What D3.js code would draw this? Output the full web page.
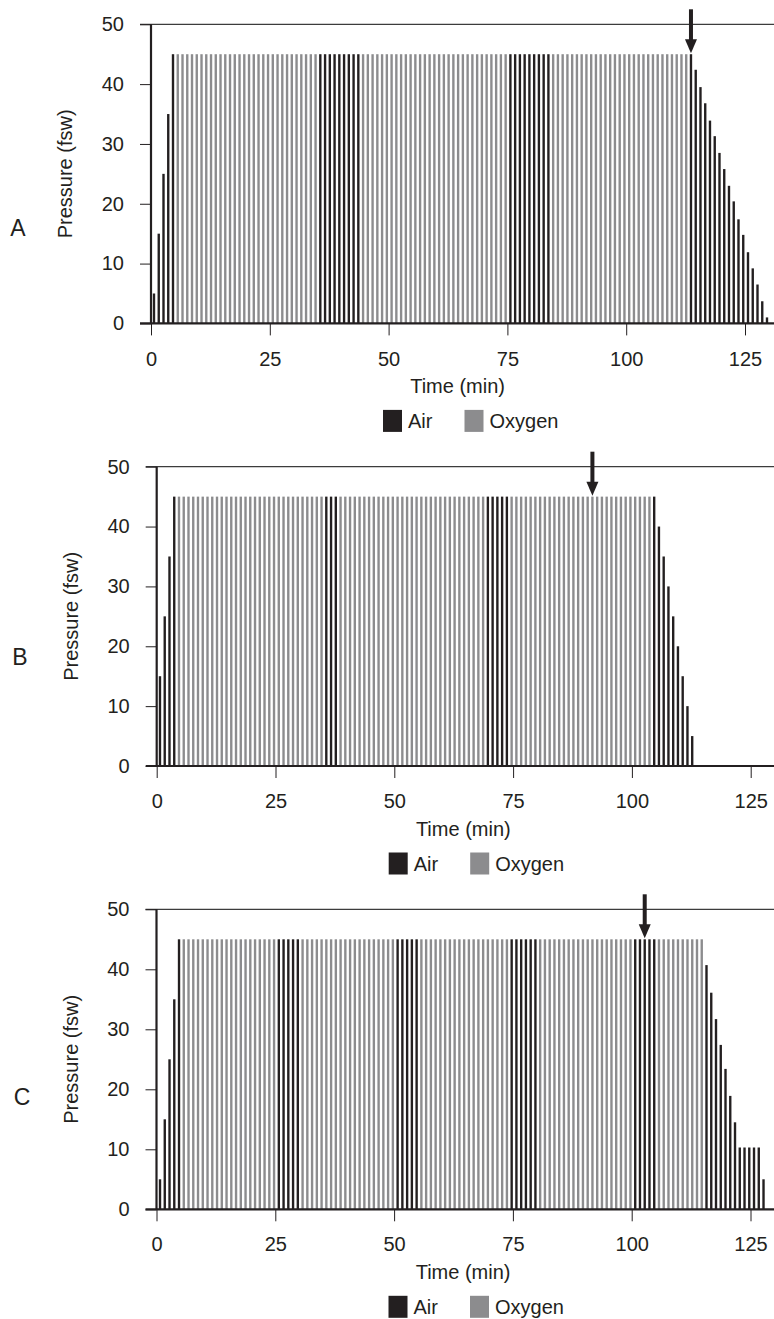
<!DOCTYPE html>
<html><head><meta charset="utf-8">
<script src="https://cdn.jsdelivr.net/npm/d3@7"></script>
<style>html,body{margin:0;padding:0;background:#fff;} svg{display:block;}</style>
</head><body>
<script>
// ---------- DATA ----------
const xTicks = [0, 25, 50, 75, 100, 125];
const yTicks = [0, 10, 20, 30, 40, 50];
const legendLabels = ["Air", "Oxygen"];
const panelLabels = ["A", "B", "C"];
const xTitle = "Time (min)";
const yTitle = "Pressure (fsw)";
const arrowMinutes = [113, 91, 102];

// pressure per minute (fsw), one value per minute starting at t = 0
const pressureA = [
  5,15,25,35,45,45,45,45,45,45,
  45,45,45,45,45,45,45,45,45,45,
  45,45,45,45,45,45,45,45,45,45,
  45,45,45,45,45,45,45,45,45,45,
  45,45,45,45,45,45,45,45,45,45,
  45,45,45,45,45,45,45,45,45,45,
  45,45,45,45,45,45,45,45,45,45,
  45,45,45,45,45,45,45,45,45,45,
  45,45,45,45,45,45,45,45,45,45,
  45,45,45,45,45,45,45,45,45,45,
  45,45,45,45,45,45,45,45,45,45,
  45,45,45,45,42.4,39.5,36.8,33.9,31.3,28.5,
  25.8,23.0,20.4,17.4,14.8,11.9,9.2,6.5,3.7,1.0
];
// breathing gas per minute: A = air, O = oxygen
const gasA =
  "AAAAAOOOOO" + "OOOOOOOOOO" + "OOOOOOOOOO" + "OOOOOAAAAA" +
  "AAAAOOOOOO" + "OOOOOOOOOO" + "OOOOOOOOOO" + "OOOOOAAAAA" +
  "AAAAOOOOOO" + "OOOOOOOOOO" + "OOOOOOOOOO" + "OOOAAAAAAA" +
  "AAAAAAAAAA";

const pressureB = [
  15,25,35,45,45,45,45,45,45,45,
  45,45,45,45,45,45,45,45,45,45,
  45,45,45,45,45,45,45,45,45,45,
  45,45,45,45,45,45,45,45,45,45,
  45,45,45,45,45,45,45,45,45,45,
  45,45,45,45,45,45,45,45,45,45,
  45,45,45,45,45,45,45,45,45,45,
  45,45,45,45,45,45,45,45,45,45,
  45,45,45,45,45,45,45,45,45,45,
  45,45,45,45,45,45,45,45,45,45,
  45,45,45,45,45,40,35,30,25,20,
  15,10,5
];
const gasB =
  "AAAAOOOOOO" + "OOOOOOOOOO" + "OOOOOOOOOO" + "OOOOOAAAOO" +
  "OOOOOOOOOO" + "OOOOOOOOOO" + "OOOOOOOOOA" + "AAAAOOOOOO" +
  "OOOOOOOOOO" + "OOOOOOOOOO" + "OOOOAAAAAA" + "AAA";

const pressureC = [
  5,15,25,35,45,45,45,45,45,45,
  45,45,45,45,45,45,45,45,45,45,
  45,45,45,45,45,45,45,45,45,45,
  45,45,45,45,45,45,45,45,45,45,
  45,45,45,45,45,45,45,45,45,45,
  45,45,45,45,45,45,45,45,45,45,
  45,45,45,45,45,45,45,45,45,45,
  45,45,45,45,45,45,45,45,45,45,
  45,45,45,45,45,45,45,45,45,45,
  45,45,45,45,45,45,45,45,45,45,
  45,45,45,45,45,45,45,45,45,45,
  45,45,45,45,45,40.7,36.1,31.7,27.4,23.4,
  18.9,14.5,10.3,10.3,10.3,10.3,10.3,5.0
];
const gasC =
  "AAAAAOOOOO" + "OOOOOOOOOO" + "OOOOOAAAAA" + "OOOOOOOOOO" +
  "OOOOOOOOOO" + "AAAAAOOOOO" + "OOOOOOOOOO" + "OOOOAAAAAA" +
  "OOOOOOOOOO" + "OOOOOOOOOO" + "AAAAAOOOOO" + "OOOOOAAAAA" +
  "AAAAAAAA";

const pressures = [pressureA, pressureB, pressureC];
const gases = [gasA, gasB, gasC];

// ---------- LAYOUT / STYLE ----------
const W = 774, H = 1319;
const FONT = "'Liberation Sans', Arial, Helvetica, sans-serif";
const INK = "#231f20", GREY = "#8c8c8e";
const colorOf = {A: INK, O: GREY};
const PX_PER_MIN = 4.752, XMAX = 131;
const layout = [
  {x0: 151.0, y0: 323.4, y50: 24.3, barOff: 0.38, letter: [18, 228]},
  {x0: 156.7, y0: 766.0, y50: 466.7, barOff: 0.44, letter: [20, 657]},
  {x0: 156.5, y0: 1209.3, y50: 909.3, barOff: 0.49, letter: [22, 1097]}
];

const svg = d3.select("body").append("svg")
  .attr("width", W).attr("height", H)
  .style("font-family", FONT);

layout.forEach((L, p) => {
  const x = d3.scaleLinear().domain([0, XMAX]).range([L.x0, L.x0 + XMAX * PX_PER_MIN]);
  const y = d3.scaleLinear().domain([0, 50]).range([L.y0, L.y50]);
  const g = svg.append("g");
  const data = pressures[p].map((v, i) => ({t: i, v: v, gas: gases[p][i]}));

  // bars
  g.append("g").selectAll("rect").data(data).join("rect")
    .attr("x", d => x(d.t + L.barOff))
    .attr("width", d => x(d.t + L.barOff + 0.5) - x(d.t + L.barOff))
    .attr("y", d => y(d.v))
    .attr("height", d => y(0) - y(d.v))
    .attr("fill", d => colorOf[d.gas]);

  // top line at 50
  g.append("line")
    .attr("x1", L.x0 - 11).attr("x2", W)
    .attr("y1", y(50)).attr("y2", y(50))
    .attr("stroke", "#3c3c3c").attr("stroke-width", 1.3);

  // y axis
  const ya = g.append("g").attr("transform", `translate(${L.x0},0)`)
    .call(d3.axisLeft(y).tickValues(yTicks).tickSize(11).tickPadding(16));
  ya.select(".domain").remove();
  ya.selectAll(".tick line").attr("stroke", INK).attr("stroke-width", 1);
  ya.selectAll(".tick text").attr("fill", INK).style("font-size", "20px").style("font-family", FONT);
  g.append("line")
    .attr("x1", L.x0).attr("x2", L.x0)
    .attr("y1", y(50)).attr("y2", y(0))
    .attr("stroke", INK).attr("stroke-width", 2.2);

  // x axis
  const xa = g.append("g").attr("transform", `translate(0,${L.y0})`)
    .call(d3.axisBottom(x).tickValues(xTicks).tickSize(12).tickPadding(16));
  xa.select(".domain").remove();
  xa.selectAll(".tick line").attr("stroke", INK).attr("stroke-width", 1);
  xa.selectAll(".tick text").attr("fill", INK).style("font-size", "20px").style("font-family", FONT);
  g.append("line")
    .attr("x1", L.x0 - 11).attr("x2", W)
    .attr("y1", y(0)).attr("y2", y(0))
    .attr("stroke", INK).attr("stroke-width", 2.2);

  // axis titles
  g.append("text")
    .attr("x", L.x0 + 306.6).attr("y", L.y0 + 70)
    .attr("text-anchor", "middle").attr("fill", INK)
    .style("font-size", "20px").text(xTitle);
  g.append("text")
    .attr("transform", `translate(${L.x0 - 79},${(y(0) + y(50)) / 2}) rotate(-90)`)
    .attr("text-anchor", "middle").attr("fill", INK)
    .style("font-size", "20px").text(yTitle);

  // panel letter
  g.append("text")
    .attr("x", L.letter[0]).attr("y", L.letter[1] + 8)
    .attr("text-anchor", "middle").attr("fill", INK)
    .style("font-size", "23px").text(panelLabels[p]);

  // arrow
  const ax = x(arrowMinutes[p] + L.barOff + 0.25);
  const tipY = y(45) - 1, topY = y(50) - 15;
  g.append("rect").attr("x", ax - 2).attr("width", 4)
    .attr("y", topY).attr("height", tipY - 13 - topY + 1).attr("fill", INK);
  g.append("path")
    .attr("d", `M${ax - 6},${tipY - 14} L${ax + 6},${tipY - 14} L${ax},${tipY} Z`)
    .attr("fill", INK);

  // legend
  const ly = L.y0 + 97.5;
  const items = [
    {label: legendLabels[0], color: INK, sx: 232, tx: 257},
    {label: legendLabels[1], color: GREY, sx: 313.5, tx: 338.5}
  ];
  items.forEach(it => {
    g.append("rect").attr("x", L.x0 + it.sx).attr("y", ly - 11)
      .attr("width", 19).attr("height", 22).attr("fill", it.color);
    g.append("text").attr("x", L.x0 + it.tx).attr("y", ly + 7.5)
      .attr("fill", INK).style("font-size", "20px").text(it.label);
  });
});
</script>
</body></html>
